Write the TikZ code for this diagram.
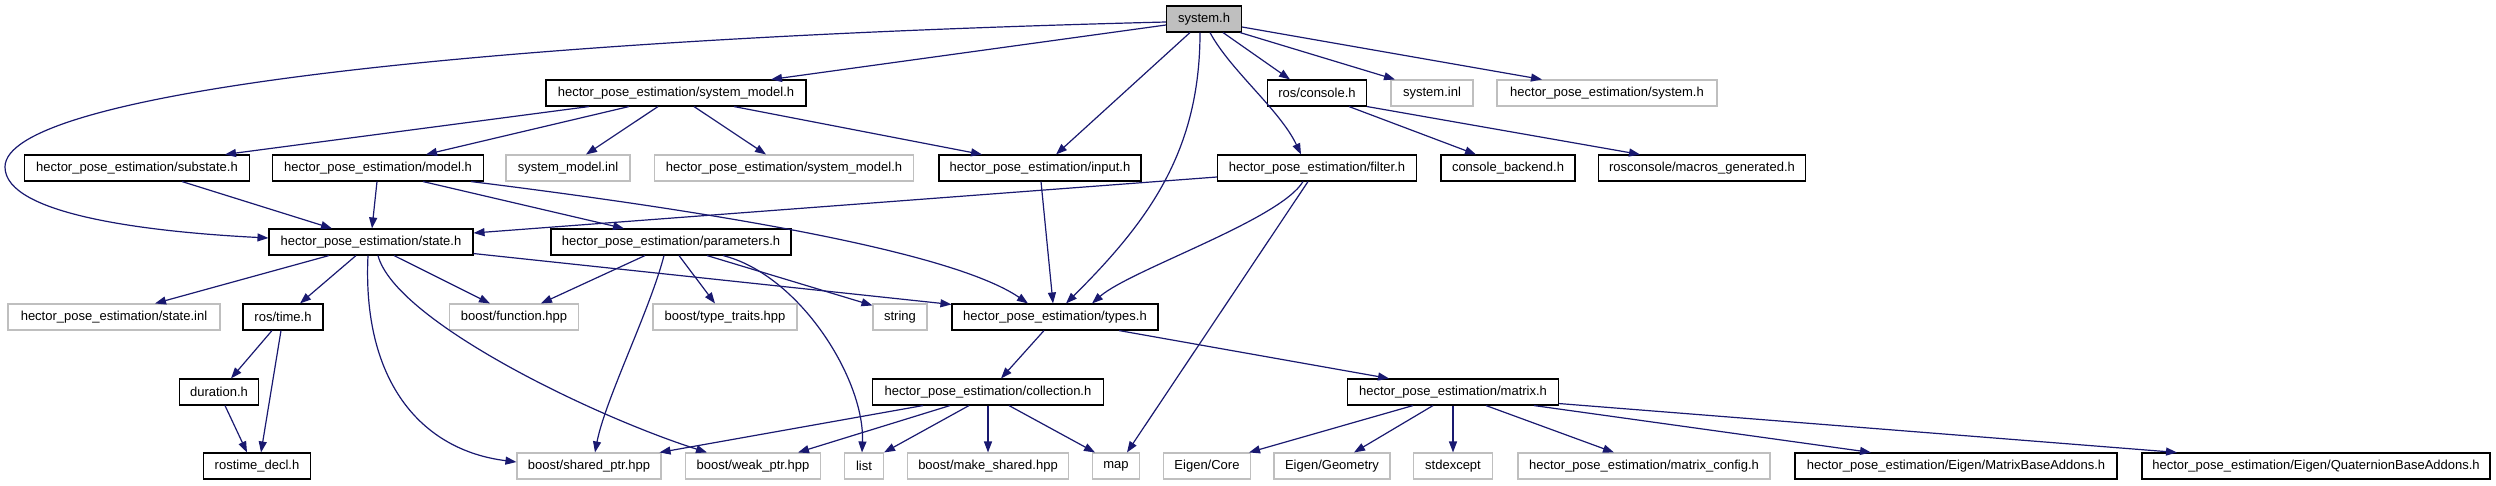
\documentclass[tikz,border=0pt]{standalone}
\usepackage{fontspec}
\setmainfont{Liberation Sans}
\usetikzlibrary{arrows.meta}
\definecolor{edgeblue}{HTML}{191970}
\definecolor{extgray}{HTML}{BFBFBF}
\tikzset{
  box/.style={draw=black, line width=1.1pt, inner sep=0pt, minimum height=26pt, font=\fontsize{13}{15}\selectfont},
  extbox/.style={box, draw=extgray},
  incl/.style={draw=edgeblue, line width=1.2pt, -{Triangle[length=11pt,width=8pt]}}
}
\begin{document}
\begin{tikzpicture}[x=1pt,y=-1pt]
			%%%%% START %%%%%
			\fill[white] (0,0) rectangle (2496,485);
			\useasboundingbox (0,0) rectangle (2496,485);

			\node[box, fill=extgray, minimum width=75pt] (sys) at (1204,19) {system.h};

			\node[box, minimum width=260pt] (sysmodel) at (676,93) {hector\_pose\_estimation/system\_model.h};
			\node[box, minimum width=99pt] (console) at (1317,93) {ros/console.h};
			\node[extbox, minimum width=82pt] (sysinl) at (1432,93) {system.inl};
			\node[extbox, minimum width=220pt] (psys) at (1607,93) {hector\_pose\_estimation/system.h};

			\node[box, minimum width=225pt] (substate) at (137,168) {hector\_pose\_estimation/substate.h};
			\node[box, minimum width=211pt] (model) at (378,168) {hector\_pose\_estimation/model.h};
			\node[extbox, minimum width=124pt] (smodelinl) at (568,168) {system\_model.inl};
			\node[extbox, minimum width=259pt] (psmodel) at (784,168) {hector\_pose\_estimation/system\_model.h};
			\node[box, minimum width=202pt] (input) at (1040,168) {hector\_pose\_estimation/input.h};
			\node[box, minimum width=199pt] (filter) at (1317,168) {hector\_pose\_estimation/filter.h};
			\node[box, minimum width=134pt] (cbackend) at (1508,168) {console\_backend.h};
			\node[box, minimum width=207pt] (macros) at (1702,168) {rosconsole/macros\_generated.h};

			\node[box, minimum width=204pt] (state) at (371,242) {hector\_pose\_estimation/state.h};
			\node[box, minimum width=240pt] (params) at (671,242) {hector\_pose\_estimation/parameters.h};

			\node[extbox, minimum width=212pt] (stateinl) at (114,317) {hector\_pose\_estimation/state.inl};
			\node[box, minimum width=80pt] (rostime) at (283,317) {ros/time.h};
			\node[extbox, minimum width=129pt] (function) at (514,317) {boost/function.hpp};
			\node[extbox, minimum width=144pt] (traits) at (725,317) {boost/type\_traits.hpp};
			\node[extbox, minimum width=54pt] (string) at (900,317) {string};
			\node[box, minimum width=206pt] (types) at (1055,317) {hector\_pose\_estimation/types.h};

			\node[box, minimum width=79pt] (duration) at (219,392) {duration.h};
			\node[box, minimum width=231pt] (collection) at (988,392) {hector\_pose\_estimation/collection.h};
			\node[box, minimum width=211pt] (matrix) at (1453,392) {hector\_pose\_estimation/matrix.h};

			\node[box, minimum width=107pt] (rtdecl) at (257,466) {rostime\_decl.h};
			\node[extbox, minimum width=144pt] (sharedptr) at (589,466) {boost/shared\_ptr.hpp};
			\node[extbox, minimum width=135pt] (weakptr) at (753,466) {boost/weak\_ptr.hpp};
			\node[extbox, minimum width=39pt] (list) at (864,466) {list};
			\node[extbox, minimum width=161pt] (mkshared) at (988,466) {boost/make\_shared.hpp};
			\node[extbox, minimum width=47pt] (map) at (1116,466) {map};
			\node[extbox, minimum width=87pt] (ecore) at (1207,466) {Eigen/Core};
			\node[extbox, minimum width=116pt] (egeom) at (1332,466) {Eigen/Geometry};
			\node[extbox, minimum width=79pt] (stdexc) at (1453,466) {stdexcept};
			\node[extbox, minimum width=252pt] (mconfig) at (1644,466) {hector\_pose\_estimation/matrix\_config.h};
			\node[box, minimum width=322pt] (mbase) at (1956,466) {hector\_pose\_estimation/Eigen/MatrixBaseAddons.h};
			\node[box, minimum width=348pt] (qbase) at (2316,466) {hector\_pose\_estimation/Eigen/QuaternionBaseAddons.h};

			% system.h
			\draw[incl] ([yshift=-3pt]sys.west) .. controls (450,40) and (5,95) .. (5,167) .. controls (5,215) and (150,232) .. ([yshift=4pt]state.west);
			\draw[incl] ([yshift=-6pt]sys.west) -- ([xshift=95pt]sysmodel.north);
			\draw[incl] ([xshift=-14pt]sys.south) -- ([xshift=16pt]input.north);
			\draw[incl] ([xshift=-4pt]sys.south) .. controls (1200,150) and (1150,220) .. ([xshift=11pt]types.north);
			\draw[incl] ([xshift=6pt]sys.south) .. controls (1230,70) and (1280,110) .. ([xshift=-16pt]filter.north);
			\draw[incl] ([xshift=19pt]sys.south) -- ([xshift=-27pt]console.north);
			\draw[incl] ([xshift=36pt]sys.south) -- ([xshift=-37pt]sysinl.north);
			\draw[incl] ([yshift=-8pt]sys.east) -- ([xshift=-65pt]psys.north);

			% system_model.h
			\draw[incl] ([xshift=-87pt]sysmodel.south) -- ([xshift=88pt]substate.north);
			\draw[incl] ([xshift=-47pt]sysmodel.south) -- ([xshift=48pt]model.north);
			\draw[incl] ([xshift=-18pt]sysmodel.south) -- ([xshift=18pt]smodelinl.north);
			\draw[incl] ([xshift=18pt]sysmodel.south) -- ([xshift=-18pt]psmodel.north);
			\draw[incl] ([xshift=58pt]sysmodel.south) -- ([xshift=-58pt]input.north);

			% ros/console.h
			\draw[incl] ([xshift=32pt]console.south) -- ([xshift=-32pt]cbackend.north);
			\draw[incl] (console.south east) -- ([xshift=-62pt]macros.north);

			% substate.h, model.h, input.h, filter.h
			\draw[incl] ([xshift=45pt]substate.south) -- ([xshift=-39pt]state.north);
			\draw[incl] ([xshift=-1pt]model.south) -- ([xshift=1pt]state.north);
			\draw[incl] ([xshift=45pt]model.south) -- ([xshift=-47pt]params.north);
			\draw[incl] ([xshift=93pt]model.south) .. controls (700,210) and (950,250) .. ([xshift=-27pt]types.north);
			\draw[incl] ([xshift=1pt]input.south) -- ([xshift=-2pt]types.north);
			\draw[incl] ([yshift=-9pt]filter.west) -- ([yshift=9pt]state.east);
			\draw[incl] ([xshift=-14pt]filter.south) .. controls (1280,220) and (1130,270) .. ([xshift=37pt]types.north);
			\draw[incl] ([xshift=-9pt]filter.south) -- ([xshift=11pt]map.north);

			% state.h
			\draw[incl] ([xshift=-42pt]state.south) -- ([xshift=41pt]stateinl.north);
			\draw[incl] ([xshift=-15pt]state.south) -- ([xshift=17pt]rostime.north);
			\draw[incl] ([xshift=23pt]state.south) -- ([xshift=-24pt]function.north);
			\draw[incl] ([xshift=-3pt]state.south) .. controls (362,380) and (420,450) .. ([yshift=4pt]sharedptr.west);
			\draw[incl] ([xshift=7pt]state.south) .. controls (395,320) and (590,415) .. ([xshift=-46pt]weakptr.north);
			\draw[incl] ([yshift=2pt]state.south east) -- ([yshift=-1pt]types.north west);

			% parameters.h
			\draw[incl] ([xshift=-26pt]params.south) -- ([xshift=27pt]function.north);
			\draw[incl] ([xshift=-7pt]params.south) .. controls (650,310) and (605,400) .. ([xshift=6pt]sharedptr.north);
			\draw[incl] ([xshift=8pt]params.south) -- ([xshift=-10pt]traits.north);
			\draw[incl] ([xshift=36pt]params.south) -- ([yshift=-2pt]string.north west);
			\draw[incl] ([xshift=52pt]params.south) .. controls (800,275) and (865,380) .. ([xshift=-2pt]list.north);

			% ros/time.h, duration.h
			\draw[incl] ([xshift=-11pt]rostime.south) -- ([xshift=12pt]duration.north);
			\draw[incl] ([xshift=-2pt]rostime.south) -- ([xshift=4pt]rtdecl.north);
			\draw[incl] ([xshift=6pt]duration.south) -- ([xshift=-10pt]rtdecl.north);

			% types.h
			\draw[incl] ([xshift=-11pt]types.south) -- ([xshift=13pt]collection.north);
			\draw[incl] ([xshift=64pt]types.south) -- ([xshift=-64pt]matrix.north);

			% collection.h
			\draw[incl] ([xshift=-65pt]collection.south) -- ([xshift=-2pt]sharedptr.north east);
			\draw[incl] ([xshift=-38pt]collection.south) -- ([xshift=45pt]weakptr.north);
			\draw[incl] ([xshift=-19pt]collection.south) -- (list.north east);
			\draw[incl] (collection.south) -- (mkshared.north);
			\draw[incl] ([xshift=21pt]collection.south) -- ([xshift=-21pt]map.north);

			% matrix.h
			\draw[incl] ([xshift=-40pt]matrix.south) -- ([xshift=-2pt]ecore.north east);
			\draw[incl] ([xshift=-20pt]matrix.south) -- ([xshift=22pt]egeom.north);
			\draw[incl] (matrix.south) -- (stdexc.north);
			\draw[incl] ([xshift=33pt]matrix.south) -- ([xshift=-30pt]mconfig.north);
			\draw[incl] ([xshift=81pt]matrix.south) -- ([xshift=-85pt]mbase.north);
			\draw[incl] ([yshift=2pt]matrix.south east) -- ([xshift=-139pt]qbase.north);
			%%%%% END %%%%%
\end{tikzpicture}
\end{document}
